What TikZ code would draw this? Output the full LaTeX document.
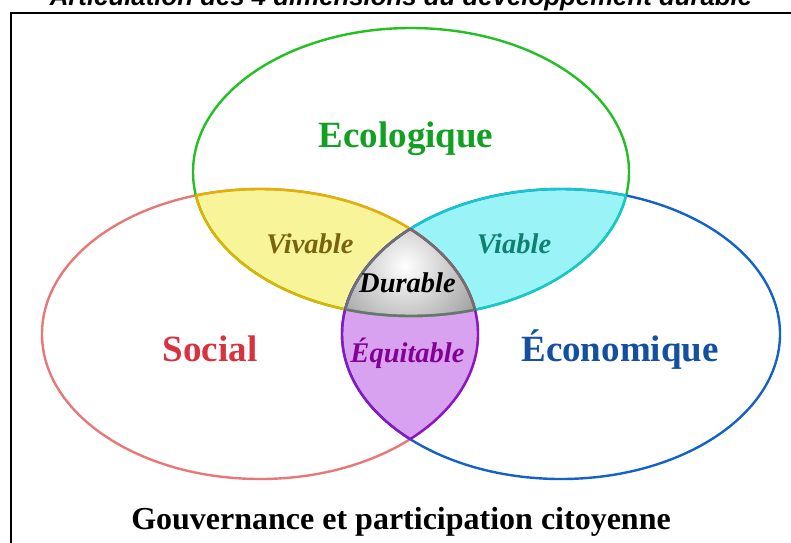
\documentclass[tikz,border=0pt]{standalone}
\usepackage{fontspec}
\setmainfont{Liberation Serif}
\newfontfamily\titlefont{Liberation Sans}
\definecolor{ecoline}{HTML}{22C022}
\definecolor{socline}{HTML}{E87878}
\definecolor{econline}{HTML}{1462C8}
\definecolor{ecotext}{HTML}{12A022}
\definecolor{soctext}{HTML}{D8323E}
\definecolor{econtext}{HTML}{1450A0}
\definecolor{vivfill}{HTML}{F7F49A}
\definecolor{vivline}{HTML}{E2B200}
\definecolor{vivtext}{HTML}{7A6210}
\definecolor{viafill}{HTML}{9AF3F7}
\definecolor{vialine}{HTML}{14C8D2}
\definecolor{viatext}{HTML}{108070}
\definecolor{equfill}{HTML}{D8A2F0}
\definecolor{equline}{HTML}{8A14C8}
\definecolor{equtext}{HTML}{820092}
\definecolor{durline}{HTML}{707070}
\newcommand\pathsoc{(260,334) ellipse [x radius=218pt, y radius=145pt]}
\newcommand\patheco{(411,172) ellipse [x radius=218pt, y radius=144pt]}
\newcommand\pathecon{(561,334) ellipse [x radius=219pt, y radius=145pt]}
\begin{document}
\begin{tikzpicture}[x=1pt,y=-1pt,
  ring/.style={line width=2.4pt},
  bigword/.style={font=\bfseries\fontsize{37}{40}\selectfont, anchor=base, inner sep=0pt},
  smallword/.style={font=\bfseries\itshape\fontsize{28.5}{30}\selectfont, anchor=base, inner sep=0pt}]
\useasboundingbox (0,0) rectangle (791,542);
\clip (0,0) rectangle (791,542);
\fill[white] (0,0) rectangle (791,542);
% title and frame
\node[font=\titlefont\bfseries\itshape\fontsize{25.8}{28}\selectfont, anchor=base, inner sep=0pt] (title) at (401,5) {Articulation des 4 dimensions du développement durable};
\draw[line width=2pt] (11,580) -- (11,13) -- (820,13);
% pairwise fills
\begin{scope}\clip\pathsoc; \fill[vivfill]\patheco; \end{scope}
\begin{scope}\clip\patheco; \fill[viafill]\pathecon; \end{scope}
\begin{scope}\clip\pathsoc; \fill[equfill]\pathecon; \end{scope}
% triple fill
\begin{scope}\clip\pathsoc; \clip\patheco; \clip\pathecon;
  \shade[inner color=white, outer color=black!42] (405,266) circle [radius=92pt];
\end{scope}
% full rings
\draw[ring, socline]\pathsoc;
\draw[ring, ecoline]\patheco;
\draw[ring, econline]\pathecon;
% pairwise borders
\begin{scope}\clip\pathsoc; \draw[ring, vivline]\patheco; \end{scope}
\begin{scope}\clip\patheco; \draw[ring, vivline]\pathsoc; \end{scope}
\begin{scope}\clip\patheco; \draw[ring, vialine]\pathecon; \end{scope}
\begin{scope}\clip\pathecon; \draw[ring, vialine]\patheco; \end{scope}
\begin{scope}\clip\pathsoc; \draw[ring, equline]\pathecon; \end{scope}
\begin{scope}\clip\pathecon; \draw[ring, equline]\pathsoc; \end{scope}
% triple border
\begin{scope}\clip\pathsoc; \clip\patheco; \draw[ring, durline]\pathecon; \end{scope}
\begin{scope}\clip\pathsoc; \clip\pathecon; \draw[ring, durline]\patheco; \end{scope}
\begin{scope}\clip\patheco; \clip\pathecon; \draw[ring, durline]\pathsoc; \end{scope}
% labels
\node[bigword, ecotext] (eco) at (406,147) {Ecologique};
\node[bigword, soctext] (soc) at (210,361) {Social};
\node[bigword, econtext] (econ) at (620,361) {Économique};
\node[smallword, vivtext] (viv) at (310,253) {Vivable};
\node[smallword, viatext] (via) at (514,253) {Viable};
\node[smallword, black] (dur) at (407.5,292) {Durable};
\node[smallword, equtext] (equ) at (407.5,362) {Équitable};
\node[font=\bfseries\fontsize{32}{34}\selectfont, anchor=base, inner sep=0pt] (gov) at (401,529) {Gouvernance et participation citoyenne};
\end{tikzpicture}
\end{document}
